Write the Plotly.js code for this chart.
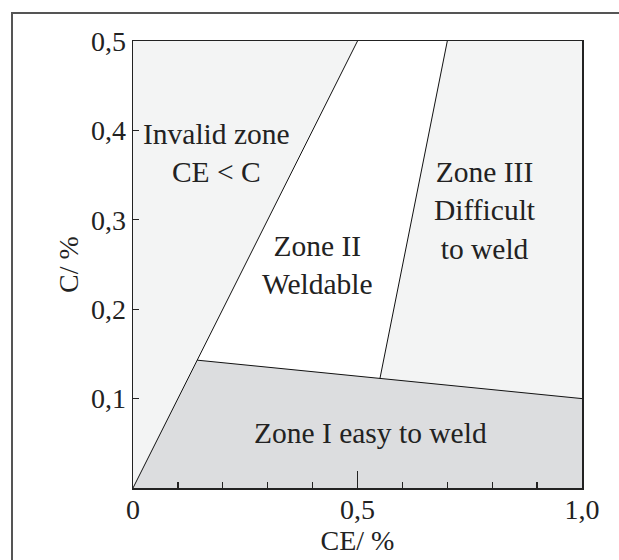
<!DOCTYPE html>
<html>
<head>
<meta charset="utf-8">
<script src="https://cdn.plot.ly/plotly-3.0.1.min.js"></script>
<style>
html,body{margin:0;padding:0;background:#fff;}
#wrap{position:relative;width:619px;height:560px;overflow:hidden;}
#chart{width:619px;height:560px;}
#frame{position:absolute;left:11px;top:12px;width:800px;height:800px;border-left:2px solid #555;border-top:2px solid #555;pointer-events:none;}
</style>
</head>
<body>
<div id="wrap"><div id="chart"></div><div id="frame"></div></div>
<script>
// Zone polygons (CE %, C %)
const invalidCE = [0, 0.5, 0, 0];
const invalidC  = [0, 0.5, 0.5, 0];
const zone2CE = [0.143, 0.5, 0.7, 0.55, 0.143];
const zone2C  = [0.143, 0.5, 0.5, 0.1225, 0.143];
const zone3CE = [0.55, 0.7, 1.0, 1.0, 0.55];
const zone3C  = [0.1225, 0.5, 0.5, 0.1, 0.1225];
const zone1CE = [0, 0.143, 1.0, 1.0, 0];
const zone1C  = [0, 0.143, 0.1, 0, 0];
// Boundary lines
const lineA_CE = [0, 0.5];      const lineA_C = [0, 0.5];
const lineB_CE = [0.143, 1.0];  const lineB_C = [0.143, 0.1];
const lineC_CE = [0.55, 0.7];   const lineC_C = [0.1225, 0.5];
// Labels
const labelText = ["Invalid zone<br>CE < C", "Zone II<br>Weldable", "Zone III<br>Difficult<br>to weld", "Zone I easy to weld"];
const labelCE = [0.186, 0.412, 0.784, 0.528];
const labelC  = [0.375, 0.249, 0.31, 0.062];
// Ticks
const xTickVals = [0, 0.5, 1.0];
const xTickText = ["0", "0,5", "1,0"];
const yTickVals = [0.1, 0.2, 0.3, 0.4, 0.5];
const yTickText = ["0,1", "0,2", "0,3", "0,4", "0,5"];

const light = '#f3f4f4', dark = '#dcdddf';
function poly(x, y, c){ return {x:x, y:y, type:'scatter', mode:'lines', fill:'toself', fillcolor:c, line:{width:0, color:c}, hoverinfo:'skip', showlegend:false}; }
function line(x, y){ return {x:x, y:y, type:'scatter', mode:'lines', line:{width:1, color:'#111'}, hoverinfo:'skip', showlegend:false}; }

const data = [
  poly(invalidCE, invalidC, light),
  poly(zone2CE, zone2C, '#ffffff'),
  poly(zone3CE, zone3C, light),
  poly(zone1CE, zone1C, dark),
  line(lineA_CE, lineA_C),
  line(lineB_CE, lineB_C),
  line(lineC_CE, lineC_C)
];

const fam = 'Liberation Serif, Times New Roman, serif';
const font = {family:fam, size:28, color:'#222'};
const annFont = {family:fam, size:29.5, color:'#222'};
const annotations = labelText.map((t,i)=>({x:labelCE[i], y:labelC[i], xref:'x', yref:'y', text:t, showarrow:false, font:annFont, align:'center'}));

const layout = {
  width:619, height:560,
  margin:{l:132.5, r:36.7, t:40.6, b:71.7},
  paper_bgcolor:'#ffffff', plot_bgcolor:'#ffffff',
  showlegend:false,
  font:font,
  xaxis:{range:[0,1], showgrid:false, zeroline:false, showline:true, linecolor:'#222', linewidth:1.5, mirror:true,
    tickmode:'array', tickvals:xTickVals, ticktext:xTickText, ticks:'inside', ticklen:17, tickwidth:1.2, tickcolor:'#222',
    minor:{dtick:0.1, ticks:'inside', ticklen:6, tickwidth:1.2, tickcolor:'#222', showgrid:false},
    ticklabelstandoff:-4,
    tickfont:font, title:{text:'CE/ %', font:font, standoff:0}, fixedrange:true},
  yaxis:{range:[0,0.5], showgrid:false, zeroline:false, showline:true, linecolor:'#222', linewidth:1.5, mirror:true,
    tickmode:'array', tickvals:yTickVals, ticktext:yTickText, ticks:'inside', ticklen:6, tickwidth:1.2, tickcolor:'#222',
    tickfont:font, title:{text:'C/ %', font:font, standoff:4}, fixedrange:true},
  annotations:annotations
};
Plotly.newPlot('chart', data, layout, {displayModeBar:false, staticPlot:true});
</script>
</body>
</html>
